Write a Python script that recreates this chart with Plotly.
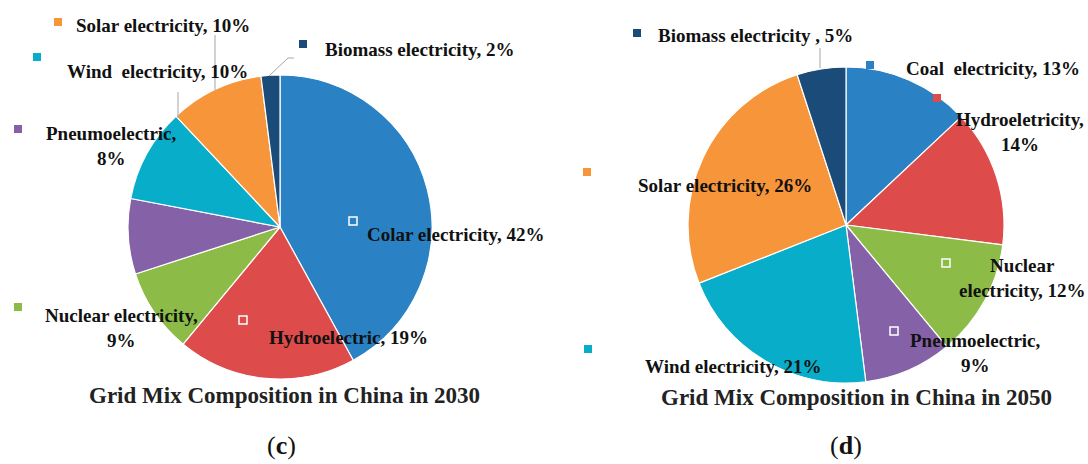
import plotly.graph_objects as go

# ---------------- data ----------------
names_2030 = ["Colar electricity", "Hydroelectric", "Nuclear electricity", "Pneumoelectric",
              "Wind  electricity", "Solar electricity", "Biomass electricity"]
values_2030 = [42, 19, 9, 8, 10, 10, 2]

names_2050 = ["Coal  electricity", "Hydroeletricity", "Nuclear electricity", "Pneumoelectric",
              "Wind electricity", "Solar electricity", "Biomass electricity "]
values_2050 = [13, 14, 12, 9, 21, 26, 5]

colors = ["#2A81C4", "#DE4B4B", "#8CBB47", "#8561A7", "#08ADC9", "#F7953B", "#1B4B78"]

title_2030 = "Grid Mix Composition in China in 2030"
title_2050 = "Grid Mix Composition in China in 2050"
panel_2030 = "c"
panel_2050 = "d"

# ---------------- layout helpers ----------------
W, H = 1088, 464


def px(x):
    return x / W


def py(y):
    return 1 - y / H


FONT = "Liberation Serif, Times New Roman, serif"

fig = go.Figure()

fig.add_trace(go.Pie(
    labels=names_2030, values=values_2030, sort=False, direction="clockwise", rotation=0,
    marker=dict(colors=colors, line=dict(color="white", width=1.2)),
    textinfo="none", showlegend=False, hole=0,
    domain=dict(x=[px(128), px(432)], y=[py(379), py(75)]),
))
fig.add_trace(go.Pie(
    labels=names_2050, values=values_2050, sort=False, direction="clockwise", rotation=0,
    marker=dict(colors=colors, line=dict(color="white", width=1.2)),
    textinfo="none", showlegend=False, hole=0,
    domain=dict(x=[px(688), px(1004)], y=[py(383), py(67)]),
))


def label_text(name, v, wrap):
    name = name.replace("  ", " \u00a0")
    if wrap == "after_comma":
        return f"{name},<br>{v}%"
    if wrap == "after_first_word":
        first, rest = name.split(" ", 1)
        return f"{first}<br>{rest}, {v}%"
    return f"{name}, {v}%"


# label placement: (text center x, center y, wrap, key x, key y, key hollow)
place_2030 = [
    (455, 234, None, 353, 221, True),
    (348, 337, None, 243, 320, True),
    (121, 328, "after_comma", 18, 307, False),
    (111, 146, "after_comma", 18, 129, False),
    (157, 72, None, 37, 57, False),
    (163, 25, None, 58, 22, False),
    (419, 50, None, 303, 44, False),
]
place_2050 = [
    (993, 68, None, 870, 65, False),
    (1020, 132, "after_comma", 937, 98, False),
    (1022, 278, "after_first_word", 946, 263, True),
    (975, 353, "after_comma", 894, 331, True),
    (733, 366, None, 588, 349, False),
    (725, 185, None, 587, 172, False),
    (755, 36, None, 637, 33, False),
]

annotations = []
shapes = []
for names, values, places in ((names_2030, values_2030, place_2030),
                              (names_2050, values_2050, place_2050)):
    for i, (n, v) in enumerate(zip(names, values)):
        tx, ty, wrap, kx, ky, hollow = places[i]
        annotations.append(dict(
            x=px(tx), y=py(ty), xref="paper", yref="paper", showarrow=False,
            text=label_text(n, v, wrap), align="center",
            xanchor="center", yanchor="middle",
            font=dict(family=FONT, size=19, color="#111111", weight="bold"),
        ))
        s = 4
        shapes.append(dict(
            type="rect", xref="paper", yref="paper",
            x0=px(kx - s), x1=px(kx + s), y0=py(ky + s), y1=py(ky - s),
            fillcolor=("rgba(0,0,0,0)" if hollow else colors[i]),
            line=dict(color=("white" if hollow else colors[i]), width=(1.5 if hollow else 0)),
        ))

# leader lines
leaders = [
    [(215, 35), (215, 90)],
    [(178, 92), (178, 118)],
    [(269, 76), (288, 58), (294, 58)],
    [(820, 48), (820, 68)],
]
for pts in leaders:
    for (x0, y0), (x1, y1) in zip(pts[:-1], pts[1:]):
        shapes.append(dict(type="line", xref="paper", yref="paper",
                           x0=px(x0), y0=py(y0), x1=px(x1), y1=py(y1),
                           line=dict(color="#A6A6A6", width=1)))

for title, tx, ty in ((title_2030, 284, 395), (title_2050, 856, 397)):
    annotations.append(dict(
        x=px(tx), y=py(ty), xref="paper", yref="paper", showarrow=False, text=title,
        xanchor="center", yanchor="middle",
        font=dict(family=FONT, size=23, color="#222222", weight="bold"),
    ))

for panel, tx in ((panel_2030, 281), (panel_2050, 846)):
    annotations.append(dict(
        x=px(tx), y=py(445), xref="paper", yref="paper", showarrow=False,
        text=f"(<b>{panel}</b>)", xanchor="center", yanchor="middle",
        font=dict(family=FONT, size=26, color="#111111"),
    ))

fig.update_layout(
    width=W, height=H, margin=dict(l=0, r=0, t=0, b=0),
    paper_bgcolor="white", plot_bgcolor="white",
    annotations=annotations, shapes=shapes,
)

fig.write_html("out.html", config={"displayModeBar": False},
               post_script="document.body.style.margin='0';")
